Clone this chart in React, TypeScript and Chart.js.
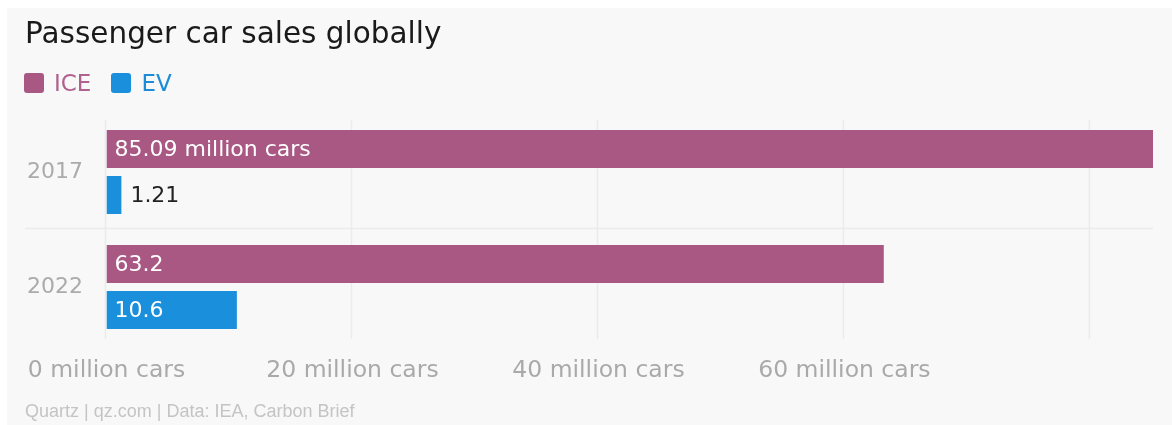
import React, { useEffect, useRef } from 'react';
import { Chart, registerables } from 'chart.js';

Chart.register(...registerables);

// ---- data ----
const chartTitle = 'Passenger car sales globally';
const sourceNote = 'Quartz | qz.com | Data: IEA, Carbon Brief';
const years = ['2017', '2022'];
const seriesNames = ['ICE', 'EV'];
const iceSales = [85.09, 63.2];
const evSales = [1.21, 10.6];
const xTickValues = [0, 20, 40, 60, 80];
const xTickLabels = ['0 million cars', '20 million cars', '40 million cars', '60 million cars', ''];
const xMax = 85.09;
const firstLabelSuffix = ' million cars';

const seriesColors = ['#a95783', '#1a8fdb'];
const legendTextColors = ['#b0628f', '#1a8cd8'];
const MAIN_FONT = '"DejaVu Sans", sans-serif';

const gridPlugin = {
  id: 'customGrid',
  beforeDatasetsDraw(chart: any) {
    const { ctx, chartArea } = chart;
    const xs = chart.scales.x;
    const ys = chart.scales.y;
    ctx.save();
    ctx.strokeStyle = '#ebebeb';
    ctx.lineWidth = 1.5;
    xs.ticks.forEach((t: any) => {
      const px = xs.getPixelForValue(t.value) - 1;
      ctx.beginPath();
      ctx.moveTo(px, chartArea.top + 5.5);
      ctx.lineTo(px, chartArea.bottom - 5.5);
      ctx.stroke();
    });
    for (let i = 0; i < years.length - 1; i++) {
      const py = (ys.getPixelForValue(i) + ys.getPixelForValue(i + 1)) / 2 - 1;
      ctx.beginPath();
      ctx.moveTo(ys.left - 2, py);
      ctx.lineTo(chartArea.right, py);
      ctx.stroke();
    }
    ctx.restore();
  },
};

const labelPlugin = {
  id: 'barLabels',
  afterDatasetsDraw(chart: any) {
    const { ctx } = chart;
    ctx.save();
    ctx.font = `22px ${MAIN_FONT}`;
    ctx.textBaseline = 'middle';
    ctx.textAlign = 'left';
    chart.data.datasets.forEach((ds: any, di: number) => {
      const meta = chart.getDatasetMeta(di);
      meta.data.forEach((bar: any, i: number) => {
        const v = ds.data[i];
        const text = `${v}${di === 0 && i === 0 ? firstLabelSuffix : ''}`;
        const w = ctx.measureText(text).width;
        const inside = bar.x - bar.base > w + 16;
        ctx.fillStyle = inside ? '#ffffff' : '#222222';
        const x = inside ? bar.base + 8 : bar.x + 9;
        ctx.fillText(text, x, bar.y + 1);
      });
    });
    ctx.restore();
  },
};

export default function App() {
  const canvasRef = useRef<HTMLCanvasElement | null>(null);

  useEffect(() => {
    if (!canvasRef.current) return;
    const chart = new Chart(canvasRef.current, {
      type: 'bar',
      data: {
        labels: years,
        datasets: [
          {
            label: seriesNames[0],
            data: iceSales,
            backgroundColor: seriesColors[0],
            borderWidth: 0,
            barPercentage: 0.826,
            categoryPercentage: 0.8,
          },
          {
            label: seriesNames[1],
            data: evSales,
            backgroundColor: seriesColors[1],
            borderWidth: 0,
            barPercentage: 0.826,
            categoryPercentage: 0.8,
          },
        ],
      },
      options: {
        indexAxis: 'y',
        responsive: false,
        animation: false,
        devicePixelRatio: 1,
        layout: { padding: { left: 20, right: 19, top: 106.5, bottom: 40.5 } },
        plugins: {
          legend: { display: false },
          title: { display: false },
          tooltip: { enabled: false },
        },
        scales: {
          x: {
            type: 'linear',
            min: 0,
            max: xMax,
            afterBuildTicks: (s: any) => {
              s.ticks = xTickValues.map((v) => ({ value: v }));
            },
            afterFit: (s: any) => {
              s.height = 40;
            },
            grid: { display: false, drawTicks: false },
            border: { display: false },
            ticks: {
              autoSkip: false,
              maxRotation: 0,
              padding: 12,
              color: '#a9a9a9',
              font: { family: MAIN_FONT, size: 23.5 },
              callback: (value: any) => {
                const idx = xTickValues.indexOf(Number(value));
                return idx >= 0 ? xTickLabels[idx] : '';
              },
            },
          },
          y: {
            type: 'category',
            afterFit: (s: any) => {
              s.width = 79.5;
            },
            grid: { display: false, drawTicks: false },
            border: { display: false },
            ticks: {
              crossAlign: 'far',
              color: '#ababab',
              font: { family: MAIN_FONT, size: 22 },
            },
          },
        },
      },
      plugins: [gridPlugin, labelPlugin],
    } as any);
    return () => chart.destroy();
  }, []);

  return (
    <div
      style={{
        position: 'fixed',
        left: 7,
        top: 8,
        width: 1165,
        height: 417,
        background: '#f8f8f8',
        overflow: 'hidden',
      }}
    >
      <canvas
        ref={canvasRef}
        width={1165}
        height={417}
        style={{ position: 'absolute', left: 0, top: 0, width: 1165, height: 417 }}
      />
      <div
        style={{
          position: 'absolute',
          left: 18,
          top: 11.3,
          font: `29.5px ${MAIN_FONT}`,
          lineHeight: 1,
          color: '#1a1a1a',
          whiteSpace: 'nowrap',
        }}
      >
        {chartTitle}
      </div>
      <div style={{ position: 'absolute', left: 17, top: 63.5, display: 'flex', alignItems: 'flex-start' }}>
        {seriesNames.map((name, i) => (
          <div key={name} style={{ display: 'flex', alignItems: 'center', marginRight: i === 0 ? 20 : 0 }}>
            <span
              style={{
                display: 'inline-block',
                width: 20,
                height: 20,
                borderRadius: 3,
                background: seriesColors[i],
                marginRight: 10,
              }}
            />
            <span style={{ font: `23px ${MAIN_FONT}`, lineHeight: 1, color: legendTextColors[i] }}>{name}</span>
          </div>
        ))}
      </div>
      <div
        style={{
          position: 'absolute',
          left: 18,
          top: 393.5,
          font: '18px "Liberation Sans", Arial, sans-serif',
          lineHeight: 1,
          color: '#c4c4c4',
          whiteSpace: 'nowrap',
        }}
      >
        {sourceNote}
      </div>
    </div>
  );
}
